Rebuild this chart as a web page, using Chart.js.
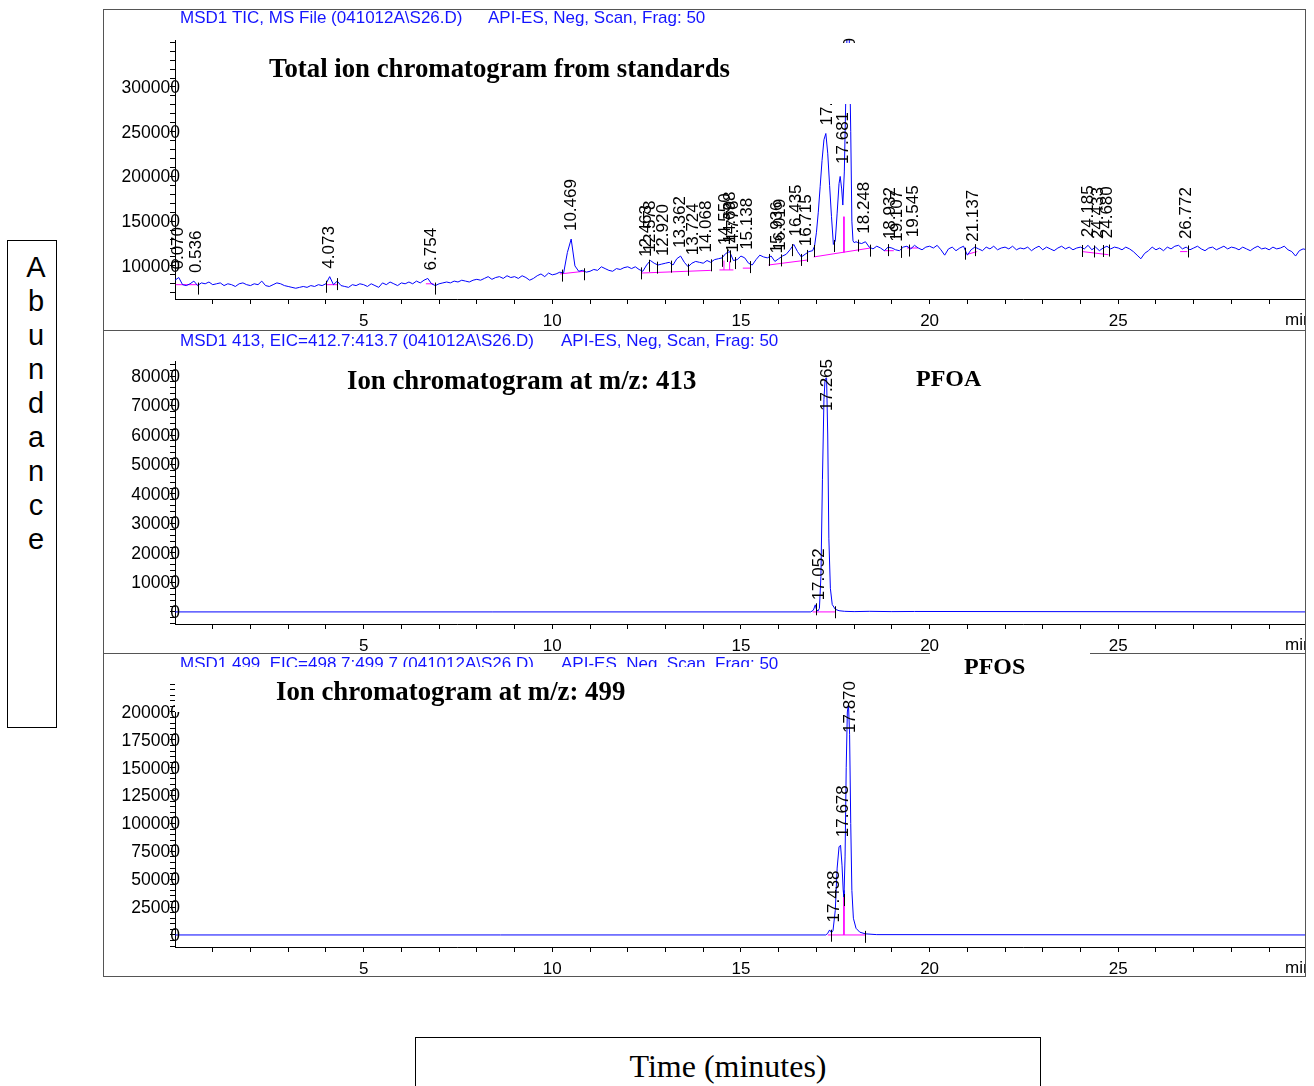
<!DOCTYPE html>
<html>
<head>
<meta charset="utf-8">
<script src="https://cdn.jsdelivr.net/npm/chart.js@4.4.1/dist/chart.umd.min.js"></script>
<style>
  body { margin: 0; background: #fff; width: 1314px; height: 1086px; position: relative; overflow: hidden; }
  .frame { position: absolute; left: 103px; top: 9px; width: 1203px; height: 968px; border: 1px solid #555; box-sizing: border-box; }
  .sep { position: absolute; left: 103px; width: 1203px; height: 1px; background: #555; }
  canvas { position: absolute; left: 103px; }
  #abund { position: absolute; left: 7px; top: 240px; width: 50px; height: 488px; border: 1.5px solid #000; box-sizing: border-box;
           padding-top: 9px; padding-left: 8px; text-align: center; font: 29px/34px "Liberation Sans", Arial, sans-serif; }
  #timeBox { position: absolute; left: 415px; top: 1037px; width: 626px; height: 70px; border: 1.5px solid #000; box-sizing: border-box;
             text-align: center; padding-top: 12px; font: 32px/32px "Liberation Serif", "Times New Roman", serif; }
</style>
</head>
<body>
<div class="frame"></div>
<div class="sep" style="top:330px"></div>
<div class="sep" style="top:653px"></div>
<canvas id="ticChart" width="1202" height="321" style="top:9px"></canvas>
<canvas id="eic413Chart" width="1202" height="323" style="top:330px"></canvas>
<canvas id="eic499Chart" width="1202" height="323" style="top:653px"></canvas>
<div id="abund"><div>A</div><div>b</div><div>u</div><div>n</div><div>d</div><div>a</div><div>n</div><div>c</div><div>e</div></div>
<div id="timeBox">Time (minutes)</div>
<script>
const SANS = '"Liberation Sans", Arial, sans-serif';
const SERIF = '"Liberation Serif", "Times New Roman", serif';

// ---------- x axis (minutes) ----------
const xTickMinutes = [1, 2, 3, 4, 5, 6, 7, 8, 9, 10, 11, 12, 13, 14, 15, 16, 17, 18, 19, 20, 21, 22, 23, 24, 25, 26, 27, 28, 29];
const xLabelMinutes = [5, 10, 15, 20, 25];

// ---------- TIC (abundance in thousands) ----------
const ticUnit = 1000;
const ticStep = 0.1;
const ticEarlyStart = 0.0;
const ticEarly = [
  84, 87, 79, 78, 80, 83, 78, 81, 80, 82,
  79, 80, 81, 78, 80, 79, 77, 80, 81, 79,
  78, 80, 79, 83, 78, 77, 79, 81, 80, 78,
  77, 76, 75, 76, 77, 76, 78, 77, 79, 78,
  80, 88, 79, 83, 78, 77, 76, 79, 78, 80,
  79, 77, 80, 78, 76, 81, 79, 82, 80, 78,
  81, 80, 82, 80, 83, 81, 84, 86, 80, 78,
  80, 81, 82, 81, 83, 82, 84, 83, 82, 84,
  85, 84, 86, 88, 85, 87, 88, 86, 89, 87,
  88, 86, 89, 87, 84, 86, 89, 91, 88, 92,
  90, 91, 93, 92, 115, 130, 100, 94, 95, 93,
  94, 96, 95, 99, 97, 95, 94, 97, 96, 98,
  99, 97, 99, 96, 94, 101, 106, 103, 101, 102,
  103, 104, 101, 108, 111, 104, 99, 103, 105, 104,
  103, 106, 104, 107, 108, 109, 114, 116, 106, 107,
  111, 109, 103, 101, 107, 112, 110, 109, 111, 105,
  108, 111, 113, 118, 124, 116, 110, 113, 116, 117
];
const ticPeakTimes = [16.95, 17.0, 17.05, 17.1, 17.15, 17.2, 17.25, 17.3, 17.35, 17.4, 17.45, 17.5, 17.55,
  17.6, 17.63, 17.67, 17.7, 17.74, 17.78, 17.82, 17.85, 17.88, 17.91, 17.94, 17.97, 18.0, 18.05];
const ticPeakAbund = [122, 137, 160, 189, 218, 241, 248, 226, 190, 155, 124, 128, 159,
  192, 200, 186, 168, 205, 290, 380, 410, 330, 250, 150, 128, 126, 127];
const ticLateStart = 18.1;
const ticLate = [
  126, 125, 127, 121, 119, 122, 120, 117, 121, 120,
  118, 117, 121, 122, 119, 123, 120, 118, 121, 122,
  120, 123, 118, 112, 119, 121, 117, 120, 122, 112,
  118, 121, 119, 117, 121, 119, 122, 118, 120, 121,
  119, 122, 118, 120, 119, 121, 117, 120, 122, 118,
  121, 119, 117, 120, 122, 119, 121, 118, 120, 121,
  119, 123, 118, 121, 117, 120, 122, 119, 121, 120,
  118, 121, 119, 116, 112, 108, 114, 117, 121, 118,
  120, 117, 121, 119, 122, 123, 119, 121, 118, 120,
  122, 119, 117, 120, 121, 118, 120, 122, 119, 121,
  120, 118, 121, 119, 117, 120, 122, 119, 120, 118,
  121, 119, 120, 122, 118, 116, 111, 117, 119, 118
];
// integration baselines (null = break)
const ticIntTimes = [0.02, 0.6, null, 4.0, 4.3, null, 6.65, 6.85, null, 10.2, 10.85, null, 12.35, 14.2, null,
  14.43, 14.8, null, 14.55, 14.55, null, 14.7, 14.7, null, 15.05, 15.25, null, 15.73, 16.75, null,
  16.93, 18.43, null, 17.73, 17.73, null, 18.8, 19.05, null, 19.4, 19.7, null, 21.0, 21.26, null,
  24.05, 24.74, null, 26.64, 26.83];
const ticIntAbund = [79, 79, null, 79, 79, null, 80, 80, null, 91, 94, null, 92, 95, null,
  95.5, 95.5, null, 95.5, 106, null, 95.5, 105, null, 97.5, 97.5, null, 101, 106.5, null,
  110, 120, null, 155, 115, null, 117, 117, null, 120, 120, null, 113, 116, null,
  116, 112.5, null, 116, 116];
const ticMarkTimes = [0.6, 4.0, 4.3, 6.9, 10.25, 10.85, 12.35, 12.55, 12.78, 13.15, 13.6, 14.2, 14.5, 14.62,
  14.72, 14.85, 15.25, 15.75, 16.05, 16.35, 16.6, 16.75, 16.93, 17.47, 18.1, 18.43, 18.9, 19.25, 19.45,
  20.95, 21.2, 24.05, 24.35, 24.6, 24.75, 26.85];
const ticPeakLabels = ["0.070", "0.536", "4.073", "6.754", "10.469", "12.463", "12.578", "12.920", "13.362",
  "13.724", "14.068", "14.550", "14.698", "14.776", "15.138", "15.936", "16.019", "16.435", "16.715",
  "17.265", "17.681", "17.870", "18.248", "18.932", "19.107", "19.545", "21.137", "24.185", "24.433",
  "24.680", "26.772"];
const ticYMajor = [100000, 150000, 200000, 250000, 300000];
const ticYMinorStep = 10000;
const ticYRange = [63000, 352500];

// ---------- EIC m/z 413 ----------
const eic413Times = [0, 16.85, 16.92, 16.97, 17.0, 17.04, 17.08, 17.12, 17.16, 17.2, 17.23, 17.27, 17.3,
  17.33, 17.37, 17.42, 17.5, 17.6, 17.75, 18.0, 18.4, 19.0, 19.6, 29.95];
const eic413Abund = [0, 0, 600, 2400, 900, 300, 1200, 12000, 45000, 72000, 79000, 79300, 60000,
  25000, 8000, 2500, 900, 400, 200, 100, 200, 100, 150, 0];
const eic413IntTimes = [16.9, 17.5];
const eic413IntAbund = [0, 0];
const eic413MarkTimes = [16.98, 17.5];
const eic413PeakLabels = ["17.052", "17.265"];
const eic413YMajor = [0, 10000, 20000, 30000, 40000, 50000, 60000, 70000, 80000];
const eic413YMinorStep = 2000;
const eic413YRange = [-4100, 85100];

// ---------- EIC m/z 499 ----------
const eic499Times = [0, 17.25, 17.3, 17.35, 17.4, 17.44, 17.5, 17.55, 17.6, 17.64, 17.68, 17.71, 17.73,
  17.76, 17.79, 17.82, 17.85, 17.88, 17.91, 17.94, 17.98, 18.05, 18.15, 18.3, 18.6, 29.95];
const eic499Abund = [0, 0, 1500, 4500, 2000, 4000, 22000, 60000, 79000, 80500, 62000, 40000, 34000,
  70000, 150000, 200000, 207000, 180000, 100000, 40000, 15000, 6000, 2500, 1000, 300, 0];
const eic499IntTimes = [17.3, 18.3, null, 17.73, 17.73];
const eic499IntAbund = [0, 0, null, 34000, 0];
const eic499MarkTimes = [17.4, 17.73, 18.3];
const eic499PeakLabels = ["17.438", "17.678", "17.870"];
const eic499YMajor = [0, 25000, 50000, 75000, 100000, 125000, 150000, 175000, 200000];
const eic499YMinorStep = 5000;
const eic499YRange = [-10800, 226000];

// ---------- build point tables ----------
const ticTrace = [];
ticEarly.forEach((v, i) => ticTrace.push({ x: ticEarlyStart + i * ticStep, y: v * ticUnit }));
ticPeakTimes.forEach((t, i) => ticTrace.push({ x: t, y: ticPeakAbund[i] * ticUnit }));
ticLate.forEach((v, i) => ticTrace.push({ x: ticLateStart + i * ticStep, y: v * ticUnit }));

const pairs = (times, vals, unit) => times.map((t, i) =>
  t === null ? { x: times[i - 1], y: null } : { x: t, y: vals[i] * unit });

// helpers
function interp(trace, t) {
  for (let i = 0; i < trace.length - 1; i++) {
    const a = trace[i], b = trace[i + 1];
    if (t >= a.x && t <= b.x) return a.y + (b.y - a.y) * (t - a.x) / (b.x - a.x || 1);
  }
  return trace[trace.length - 1].y;
}
function localMax(trace, t) {
  let m = null;
  trace.forEach(p => { if (Math.abs(p.x - t) <= 0.06 && (m === null || p.y > m)) m = p.y; });
  return m === null ? interp(trace, t) : m;
}

// ---------- panel annotations plugin ----------
const panelLeft = 103;
function annotPlugin(cfg) {
  return {
    id: 'annot',
    afterDraw(chart) {
      const ctx = chart.ctx, xs = chart.scales.x, ys = chart.scales.y, area = chart.chartArea;
      const trace = chart.data.datasets[0].data;
      const ox = panelLeft, oy = cfg.top;
      ctx.save();

      // y tick labels (they overlap the axis line, so drawn here instead of clipped by the scale)
      ctx.font = '17.5px ' + SANS;
      ctx.fillStyle = '#000';
      ctx.textAlign = 'right';
      ctx.textBaseline = 'middle';
      cfg.yMajor.forEach(v => ctx.fillText(String(v), area.left + 5, ys.getPixelForValue(v) + 1));

      // peak retention time labels
      ctx.font = '17px ' + SANS;
      ctx.textAlign = 'left';
      cfg.peakLabels.forEach(lbl => {
        const t = parseFloat(lbl);
        const px = xs.getPixelForValue(t);
        const py = ys.getPixelForValue(localMax(trace, t));
        const w = ctx.measureText(lbl).width;
        let base = py - 8;
        if (base - w < area.top - 2) base = area.top - 2 + w;
        ctx.save();
        ctx.translate(px, base);
        ctx.rotate(-Math.PI / 2);
        ctx.fillText(lbl, 0, 1);
        ctx.restore();
      });

      // integration tick marks
      ctx.strokeStyle = '#000';
      ctx.lineWidth = 1;
      ctx.beginPath();
      cfg.markTimes.forEach(t => {
        const px = Math.round(xs.getPixelForValue(t)) + 0.5;
        const py = ys.getPixelForValue(interp(trace, t));
        ctx.moveTo(px, py - 3);
        ctx.lineTo(px, py + 9);
      });
      ctx.stroke();

      // blue header
      ctx.font = '17px ' + SANS;
      ctx.fillStyle = '#1414ff';
      cfg.headers.forEach(h => ctx.fillText(h.text, h.x - ox, h.y - oy));

      // white title boxes
      ctx.fillStyle = '#fff';
      cfg.boxes.forEach(b => ctx.fillRect(b.x - ox, b.y - oy, b.w, b.h));

      // titles
      ctx.fillStyle = '#000';
      ctx.textBaseline = 'alphabetic';
      cfg.titles.forEach(tt => {
        ctx.font = 'bold ' + tt.size + 'px ' + SERIF;
        ctx.fillText(tt.text, tt.x - ox, tt.y - oy);
      });

      // "min" unit at axis end
      ctx.font = '17px ' + SANS;
      ctx.textBaseline = 'middle';
      ctx.fillText('min', area.right - 20, area.bottom + 21);
      ctx.restore();
    }
  };
}

function buildPanel(id, cfg) {
  const yTicks = [];
  for (let v = Math.ceil(cfg.yRange[0] / cfg.yStep) * cfg.yStep; v <= cfg.yRange[1]; v += cfg.yStep) yTicks.push(v);
  return new Chart(document.getElementById(id), {
    type: 'line',
    data: {
      datasets: [
        { data: cfg.trace, borderColor: '#0000ff', borderWidth: 1, pointRadius: 0, tension: 0 },
        { data: cfg.integ, borderColor: '#ff00ff', borderWidth: 1, pointRadius: 0, tension: 0, spanGaps: false },
      ],
    },
    options: {
      responsive: false,
      animation: false,
      events: [],
      layout: { padding: { top: cfg.padTop, left: 0, right: 0, bottom: 0 } },
      plugins: { legend: { display: false }, tooltip: { enabled: false } },
      scales: {
        x: {
          type: 'linear', min: 0, max: 29.95,
          afterFit: s => { s.height = cfg.xAxisH; },
          afterBuildTicks: s => { s.ticks = xTickMinutes.map(v => ({ value: v })); },
          grid: { display: true, drawOnChartArea: false, drawTicks: true, tickLength: 5, color: '#000' },
          border: { display: true, color: '#000', width: 1 },
          ticks: {
            autoSkip: false, maxRotation: 0, padding: 7, color: '#000', font: { family: SANS, size: 17 },
            callback: v => xLabelMinutes.includes(v) ? String(v) : '',
          },
        },
        y: {
          type: 'linear', min: cfg.yRange[0], max: cfg.yRange[1],
          afterFit: s => { s.width = 72; },
          afterBuildTicks: s => { s.ticks = yTicks.map(v => ({ value: v })); },
          grid: { display: true, drawOnChartArea: false, drawTicks: true, tickLength: 5, color: '#000' },
          border: { display: true, color: '#000', width: 1 },
          ticks: { autoSkip: false, callback: () => '' },
        },
      },
    },
    plugins: [annotPlugin(cfg)],
  });
}

// ----------- TIC panel --------- //
buildPanel('ticChart', {
  top: 9, padTop: 31, xAxisH: 31,
  trace: ticTrace,
  integ: pairs(ticIntTimes, ticIntAbund, ticUnit),
  yRange: ticYRange, yStep: ticYMinorStep, yMajor: ticYMajor,
  peakLabels: ticPeakLabels, markTimes: ticMarkTimes,
  headers: [{ text: 'MSD1 TIC, MS File (041012A\\S26.D)', x: 180, y: 18 },
            { text: 'API-ES, Neg, Scan, Frag: 50', x: 488, y: 18 }],
  boxes: [{ x: 255, y: 43, w: 615, h: 61 }],
  titles: [{ text: 'Total ion chromatogram from standards', x: 269, y: 77, size: 26.8 }],
});

// ----------- EIC 413 panel --------- //
buildPanel('eic413Chart', {
  top: 330, padTop: 31, xAxisH: 29,
  trace: pairs(eic413Times, eic413Abund, 1),
  integ: pairs(eic413IntTimes, eic413IntAbund, 1),
  yRange: eic413YRange, yStep: eic413YMinorStep, yMajor: eic413YMajor,
  peakLabels: eic413PeakLabels, markTimes: eic413MarkTimes,
  headers: [{ text: 'MSD1 413, EIC=412.7:413.7 (041012A\\S26.D)', x: 180, y: 341 },
            { text: 'API-ES, Neg, Scan, Frag: 50', x: 561, y: 341 }],
  boxes: [],
  titles: [{ text: 'Ion chromatogram at m/z: 413', x: 347, y: 389, size: 26.8 },
           { text: 'PFOA', x: 916, y: 386, size: 24 }],
});

// ----------- EIC 499 panel --------- //
buildPanel('eic499Chart', {
  top: 653, padTop: 30, xAxisH: 29,
  trace: pairs(eic499Times, eic499Abund, 1),
  integ: pairs(eic499IntTimes, eic499IntAbund, 1),
  yRange: eic499YRange, yStep: eic499YMinorStep, yMajor: eic499YMajor,
  peakLabels: eic499PeakLabels, markTimes: eic499MarkTimes,
  headers: [{ text: 'MSD1 499, EIC=498.7:499.7 (041012A\\S26.D)', x: 180, y: 664 },
            { text: 'API-ES, Neg, Scan, Frag: 50', x: 561, y: 664 }],
  boxes: [{ x: 175, y: 667, w: 585, h: 45 }, { x: 930, y: 653, w: 160, h: 32 }],
  titles: [{ text: 'Ion chromatogram at m/z: 499', x: 276, y: 700, size: 26.8 },
           { text: 'PFOS', x: 964, y: 674, size: 24 }],
});
</script>
</body>
</html>
